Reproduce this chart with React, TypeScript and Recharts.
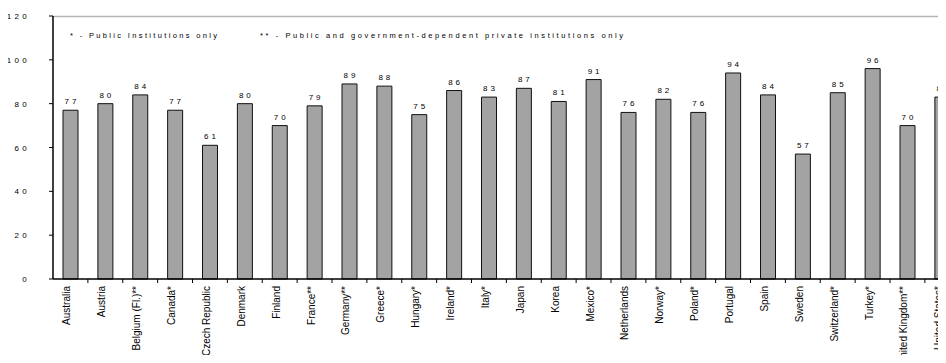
import React from "react";
import { BarChart, Bar, XAxis, YAxis, LabelList } from "recharts";

const countries = [
  "Australia", "Austria", "Belgium (Fl.)**", "Canada*", "Czech Republic", "Denmark",
  "Finland", "France**", "Germany**", "Greece*", "Hungary*", "Ireland*", "Italy*",
  "Japan", "Korea", "Mexico*", "Netherlands", "Norway*", "Poland*", "Portugal",
  "Spain", "Sweden", "Switzerland*", "Turkey*", "United Kingdom**", "United States*",
];
const values = [77, 80, 84, 77, 61, 80, 70, 79, 89, 88, 75, 86, 83, 87, 81, 91, 76, 82, 76, 94, 84, 57, 85, 96, 70, 83];
const yTicks = [0, 20, 40, 60, 80, 100, 120];
const yMax = 120;
const note1 = "* - Public Institutions only";
const note2 = "** - Public and government-dependent private institutions only";

const data = countries.map((c, i) => ({ country: c, value: values[i] }));

const FONT = "'Liberation Sans', Arial, sans-serif";
const HALF_BAND = 17.44;

const XTick = (props: any) => {
  const { x, y, payload } = props;
  return (
    <g>
      <line x1={x + HALF_BAND} y1={y} x2={x + HALF_BAND} y2={y + 4} stroke="#000" strokeWidth={1} />
      <text
        x={x}
        y={y + 7}
        transform={`rotate(-90, ${x}, ${y + 7})`}
        textAnchor="end"
        fontSize={10}
        fontFamily={FONT}
        fill="#000"
      >
        {payload.value}
      </text>
    </g>
  );
};

const YTick = (props: any) => {
  const { y, payload } = props;
  return (
    <text
      x={30}
      y={y + 3}
      textAnchor="end"
      fontSize={8}
      fontFamily={FONT}
      letterSpacing={3.3}
      fill="#000"
    >
      {payload.value}
    </text>
  );
};

const renderValueLabel = (props: any) => {
  const { x, y, width, value } = props;
  return (
    <text
      x={x + width / 2 + 1.5}
      y={y - 6}
      textAnchor="middle"
      fontSize={8}
      fontFamily={FONT}
      letterSpacing={3}
      fill="#000"
    >
      {value}
    </text>
  );
};

export default function App() {
  return (
    <div style={{ position: "relative", width: 946, height: 363, margin: -8, overflow: "hidden", background: "#fff" }}>
      <svg width={946} height={363} style={{ position: "absolute", left: 0, top: 0, pointerEvents: "none" }}>
        <line x1={53} y1={16.5} x2={946} y2={16.5} stroke="#b5b5b5" strokeWidth={1.5} />
      </svg>
      <div style={{ position: "absolute", left: 0, top: 0 }}>
        <BarChart
          width={966}
          height={363}
          data={data}
          margin={{ top: 16, right: 6.25, bottom: 0, left: 0 }}
          barCategoryGap={0}
        >
          <XAxis
            dataKey="country"
            interval={0}
            height={84}
            axisLine={{ stroke: "#000", strokeWidth: 1.5 }}
            tickLine={false}
            tickSize={0}
            tickMargin={0}
            tick={<XTick />}
          />
          <YAxis
            domain={[0, yMax]}
            ticks={yTicks}
            width={53}
            axisLine={{ stroke: "#000", strokeWidth: 1.5 }}
            tickLine={{ stroke: "#000" }}
            tickSize={4}
            tick={<YTick />}
          />
          <Bar dataKey="value" fill="#a3a3a3" stroke="#111" strokeWidth={1} barSize={15} isAnimationActive={false}>
            <LabelList dataKey="value" content={renderValueLabel} />
          </Bar>
        </BarChart>
      </div>
      <svg width={946} height={363} style={{ position: "absolute", left: 0, top: 0, pointerEvents: "none" }}>
        <text x={70} y={38} fontSize={7.5} fontFamily={FONT} fill="#000" textLength={147} lengthAdjust="spacing">
          {note1}
        </text>
        <text x={260} y={38} fontSize={7.5} fontFamily={FONT} fill="#000" textLength={363} lengthAdjust="spacing">
          {note2}
        </text>
      </svg>
    </div>
  );
}
